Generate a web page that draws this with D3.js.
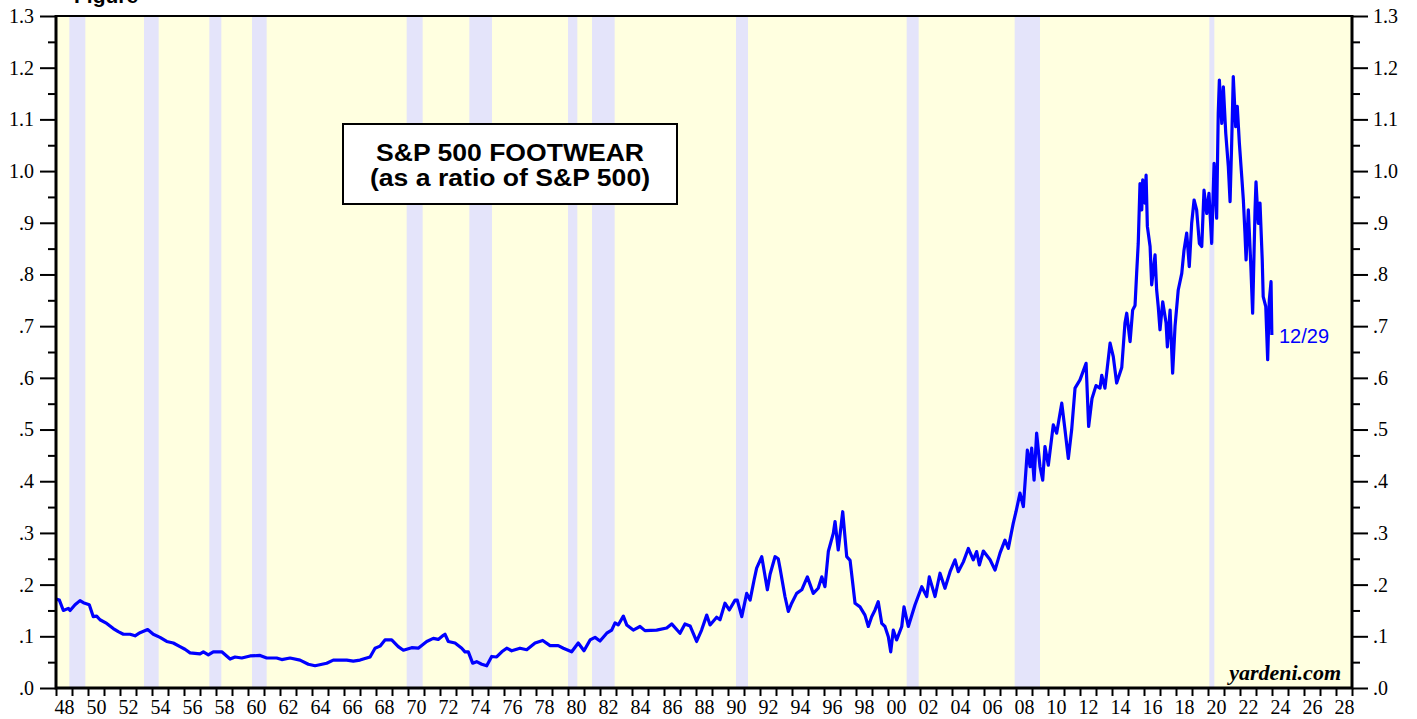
<!DOCTYPE html>
<html>
<head>
<meta charset="utf-8">
<script src="https://cdn.jsdelivr.net/npm/d3@7"></script>
<style>
    body { margin: 0; background: #ffffff; }
    .axis text { font-family: "Liberation Serif", "Times New Roman", serif; font-size: 20px; fill: #000; }
    .axis .domain { display: none; }
    .axis line { stroke: #000; stroke-width: 2; }
</style>
</head>
<body>
<div id="chart"></div>
<script>
// S&P 500 Footwear as a ratio of S&P 500, [decimal year, ratio]
let ratioPoints = [
    [1948.00, .172], [1948.21, .170], [1948.46, .150], [1948.77, .154], [1948.88, .150],
    [1949.19, .161], [1949.50, .169], [1949.71, .165], [1950.08, .161], [1950.33, .138],
    [1950.54, .139], [1950.75, .132], [1951.17, .125], [1951.58, .115], [1951.89, .109],
    [1952.21, .104], [1952.63, .104], [1952.94, .101], [1953.25, .107], [1953.73, .113],
    [1954.08, .104], [1954.50, .098], [1954.92, .090], [1955.33, .087], [1955.75, .080],
    [1956.06, .075], [1956.38, .068], [1957.00, .066], [1957.21, .070], [1957.52, .064],
    [1957.83, .070], [1958.36, .070], [1958.88, .056], [1959.19, .060], [1959.61, .058],
    [1960.13, .062], [1960.75, .063], [1961.17, .058], [1961.79, .058], [1962.11, .055],
    [1962.63, .058], [1963.25, .054], [1963.77, .046], [1964.19, .043], [1964.92, .048],
    [1965.33, .054], [1966.17, .054], [1966.58, .052], [1967.00, .054], [1967.31, .057],
    [1967.63, .060], [1967.94, .077], [1968.25, .081], [1968.56, .093], [1968.98, .093],
    [1969.39, .080], [1969.71, .073], [1970.23, .078], [1970.64, .077], [1971.17, .090],
    [1971.58, .096], [1971.89, .094], [1972.21, .102], [1972.31, .104], [1972.52, .090],
    [1972.94, .087], [1973.36, .077], [1973.56, .070], [1973.77, .070], [1974.04, .048],
    [1974.29, .051], [1974.61, .046], [1974.92, .043], [1975.23, .061], [1975.54, .060],
    [1975.86, .070], [1976.17, .077], [1976.48, .072], [1977.00, .077], [1977.42, .074],
    [1977.94, .087], [1978.42, .092], [1978.88, .082], [1979.39, .082], [1979.71, .077],
    [1980.23, .070], [1980.64, .087], [1981.00, .072], [1981.38, .093], [1981.69, .098],
    [1982.00, .091], [1982.42, .106], [1982.73, .112], [1982.94, .126], [1983.14, .122],
    [1983.46, .139], [1983.67, .122], [1984.08, .112], [1984.50, .119], [1984.81, .111],
    [1985.54, .112], [1986.17, .116], [1986.48, .124], [1987.00, .106], [1987.31, .124],
    [1987.63, .120], [1988.04, .090], [1988.35, .112], [1988.67, .141], [1988.88, .122],
    [1989.29, .137], [1989.50, .132], [1989.81, .164], [1990.08, .151], [1990.44, .170],
    [1990.58, .170], [1990.86, .138], [1991.17, .183], [1991.38, .170], [1991.63, .209],
    [1991.79, .232], [1992.11, .254], [1992.46, .190], [1992.63, .220], [1992.94, .254],
    [1993.14, .250], [1993.25, .232], [1993.56, .177], [1993.77, .148], [1993.98, .164],
    [1994.29, .183], [1994.61, .190], [1994.96, .215], [1995.33, .183], [1995.64, .193],
    [1995.86, .215], [1996.06, .196], [1996.27, .264], [1996.58, .299], [1996.69, .322],
    [1996.89, .267], [1997.17, .341], [1997.42, .254], [1997.63, .247], [1997.94, .164],
    [1998.25, .157], [1998.56, .141], [1998.77, .119], [1998.98, .138], [1999.19, .151],
    [1999.39, .167], [1999.61, .125], [1999.81, .119], [2000.02, .099], [2000.17, .070],
    [2000.33, .112], [2000.54, .093], [2000.86, .119], [2001.00, .157], [2001.27, .119],
    [2001.69, .161], [2002.11, .196], [2002.42, .177], [2002.58, .215], [2002.94, .177],
    [2003.25, .222], [2003.56, .193], [2003.88, .225], [2004.19, .248], [2004.39, .225],
    [2004.71, .244], [2005.02, .270], [2005.33, .248], [2005.54, .264], [2005.71, .238],
    [2005.96, .265], [2006.38, .248], [2006.69, .228], [2007.00, .261], [2007.31, .286],
    [2007.52, .270], [2007.83, .319], [2008.00, .341], [2008.25, .377], [2008.46, .351],
    [2008.71, .460], [2008.88, .428], [2008.98, .464], [2009.13, .402], [2009.29, .493],
    [2009.50, .428], [2009.67, .402], [2009.81, .467], [2010.02, .431], [2010.33, .509],
    [2010.54, .493], [2010.86, .551], [2011.06, .500], [2011.27, .444], [2011.48, .500],
    [2011.69, .580], [2012.00, .596], [2012.38, .628], [2012.54, .506], [2012.75, .560],
    [2013.00, .585], [2013.25, .580], [2013.36, .605], [2013.56, .580], [2013.88, .667],
    [2014.08, .641], [2014.29, .590], [2014.61, .620], [2014.81, .706], [2014.92, .725],
    [2015.13, .670], [2015.29, .731], [2015.44, .740], [2015.54, .802], [2015.64, .860],
    [2015.75, .976], [2015.86, .925], [2015.92, .983], [2016.06, .938], [2016.13, .992],
    [2016.21, .893], [2016.38, .854], [2016.48, .780], [2016.69, .838], [2016.79, .770],
    [2016.89, .738], [2017.00, .693], [2017.17, .747], [2017.38, .706], [2017.46, .660],
    [2017.63, .731], [2017.79, .609], [2017.94, .700], [2018.14, .770], [2018.36, .802],
    [2018.50, .847], [2018.67, .880], [2018.83, .815], [2018.98, .899], [2019.13, .944],
    [2019.29, .925], [2019.46, .860], [2019.61, .854], [2019.75, .963], [2019.92, .918],
    [2020.06, .957], [2020.23, .860], [2020.38, 1.015], [2020.54, .909], [2020.64, 1.112],
    [2020.71, 1.176], [2020.86, 1.092], [2020.96, 1.163], [2021.11, 1.073], [2021.27, 1.009],
    [2021.38, .941], [2021.48, 1.054], [2021.58, 1.183], [2021.73, 1.086], [2021.83, 1.125],
    [2021.96, 1.054], [2022.11, .989], [2022.21, .944], [2022.31, .880], [2022.38, .828],
    [2022.52, .925], [2022.67, .822], [2022.79, .725], [2022.94, .925], [2023.00, .979],
    [2023.14, .899], [2023.25, .938], [2023.39, .828], [2023.45, .757], [2023.61, .738],
    [2023.73, .635], [2023.83, .750], [2023.94, .786], [2023.99, .683]
];

// NBER recessions (first month, last month)
let recessionStarts = ["1948-11", "1953-07", "1957-08", "1960-04", "1969-12", "1973-11",
    "1980-01", "1981-07", "1990-07", "2001-03", "2007-12", "2020-02"];
let recessionEnds = ["1949-10", "1954-05", "1958-04", "1961-02", "1970-11", "1975-03",
    "1980-07", "1982-11", "1991-03", "2001-11", "2009-06", "2020-04"];

let yMajorTicks = [0, .1, .2, .3, .4, .5, .6, .7, .8, .9, 1.0, 1.1, 1.2, 1.3];
let yMinorTicks = [.05, .15, .25, .35, .45, .55, .65, .75, .85, .95, 1.05, 1.15, 1.25];
let titleLines = ["S&P 500 FOOTWEAR", "(as a ratio of S&P 500)"];
let lastDateLabel = "12/29";

let WIDTH = 1417,
    HEIGHT = 719,
    LEFT = 56,
    RIGHT = 1352,
    TOP = 16,
    BOTTOM = 688;

let svg = d3.select('#chart')
    .append('svg')
    .attr('width', WIDTH)
    .attr('height', HEIGHT);

let x = d3.scaleLinear().domain([1948, 2029]).range([LEFT, RIGHT]);
let y = d3.scaleLinear().domain([0, 1.3]).range([BOTTOM, TOP]);

// turn "YYYY-MM" into a decimal year; the end month counts as a whole month
let monthStart = s => +s.slice(0, 4) + (+s.slice(5, 7) - 1) / 12;
let monthEnd = s => +s.slice(0, 4) + (+s.slice(5, 7)) / 12;

// Plot background and recession bands

svg.append('rect')
    .attr('x', LEFT).attr('y', TOP)
    .attr('width', RIGHT - LEFT).attr('height', BOTTOM - TOP)
    .attr('fill', '#ffffe0');

svg.selectAll('.band')
    .data(recessionStarts)
    .enter()
    .append('rect')
    .classed('band', true)
    .attr('x', d => x(monthStart(d)))
    .attr('width', (d, i) => Math.max(x(monthEnd(recessionEnds[i])) - x(monthStart(d)), 5))
    .attr('y', TOP)
    .attr('height', BOTTOM - TOP)
    .attr('fill', '#e4e4fa');

// Figure heading, cut off at the very top as in the original
svg.append('text')
    .attr('x', 74).attr('y', 3)
    .attr('font-family', 'Liberation Sans, Arial, sans-serif')
    .attr('font-weight', 'bold')
    .attr('font-size', 21)
    .text('Figure');

// The ratio line

let line = d3.line()
    .x(d => x(d[0]))
    .y(d => y(d[1]));

svg.append('path')
    .datum(ratioPoints)
    .attr('d', line)
    .attr('fill', 'none')
    .attr('stroke', '#0000ff')
    .attr('stroke-width', 3.2)
    .attr('stroke-linejoin', 'round');

// Axes, left and right share the same ticks

let fmt = d => d < 1 ? d3.format('.1f')(d).replace(/^0/, '') : d3.format('.1f')(d);

svg.append('g')
    .classed('axis', true)
    .attr('transform', `translate(${LEFT},0)`)
    .call(d3.axisLeft(y).tickValues(yMajorTicks).tickSize(16).tickPadding(6).tickFormat(fmt));
svg.append('g')
    .classed('axis', true)
    .attr('transform', `translate(${LEFT},0)`)
    .call(d3.axisLeft(y).tickValues(yMinorTicks).tickSize(8).tickFormat(''));

svg.append('g')
    .classed('axis', true)
    .attr('transform', `translate(${RIGHT},0)`)
    .call(d3.axisRight(y).tickValues(yMajorTicks).tickSize(16).tickPadding(5).tickFormat(fmt));
svg.append('g')
    .classed('axis', true)
    .attr('transform', `translate(${RIGHT},0)`)
    .call(d3.axisRight(y).tickValues(yMinorTicks).tickSize(8).tickFormat(''));

// yearly ticks on the bottom, labels for even years sit in the middle of the year
svg.append('g')
    .classed('axis', true)
    .attr('transform', `translate(0,${BOTTOM})`)
    .call(d3.axisBottom(x).tickValues(d3.range(1948, 2030)).tickSize(8).tickFormat(''));
svg.append('g')
    .classed('axis', true)
    .attr('transform', `translate(0,${BOTTOM})`)
    .call(d3.axisBottom(x)
        .tickValues(d3.range(1948, 2029, 2).map(d => d + 0.5))
        .tickSize(0)
        .tickPadding(12)
        .tickFormat(d => d3.format('02d')(Math.floor(d) % 100)));

// Frame
svg.append('rect')
    .attr('x', LEFT).attr('y', TOP)
    .attr('width', RIGHT - LEFT).attr('height', BOTTOM - TOP)
    .attr('fill', 'none')
    .attr('stroke', '#000')
    .attr('stroke-width', 2);
svg.append('path')
    .attr('d', `M${LEFT},${TOP - 1}V${BOTTOM}H${RIGHT}V${TOP - 1}`)
    .attr('fill', 'none')
    .attr('stroke', '#000')
    .attr('stroke-width', 3);

// Title box

let box = svg.append('g');
box.append('rect')
    .attr('x', 343).attr('y', 124)
    .attr('width', 334).attr('height', 80)
    .attr('fill', '#fff')
    .attr('stroke', '#000')
    .attr('stroke-width', 2);
box.selectAll('text')
    .data(titleLines)
    .enter()
    .append('text')
    .attr('x', 510)
    .attr('y', (d, i) => 161 + i * 25)
    .attr('text-anchor', 'middle')
    .attr('font-family', 'Liberation Sans, Arial, sans-serif')
    .attr('font-weight', 'bold')
    .attr('font-size', 24)
    .attr('textLength', (d, i) => i === 0 ? 268 : 280)
    .attr('lengthAdjust', 'spacingAndGlyphs')
    .text(d => d);

// Last date label
svg.append('text')
    .attr('x', 1279).attr('y', 343)
    .attr('font-family', 'Liberation Sans, Arial, sans-serif')
    .attr('font-size', 20)
    .attr('fill', '#0000ff')
    .text(lastDateLabel);

// Source
svg.append('text')
    .attr('x', 1341).attr('y', 680)
    .attr('text-anchor', 'end')
    .attr('font-family', 'Liberation Serif, Times New Roman, serif')
    .attr('font-weight', 'bold')
    .attr('font-style', 'italic')
    .attr('font-size', 22)
    .text('yardeni.com');
</script>
</body>
</html>
